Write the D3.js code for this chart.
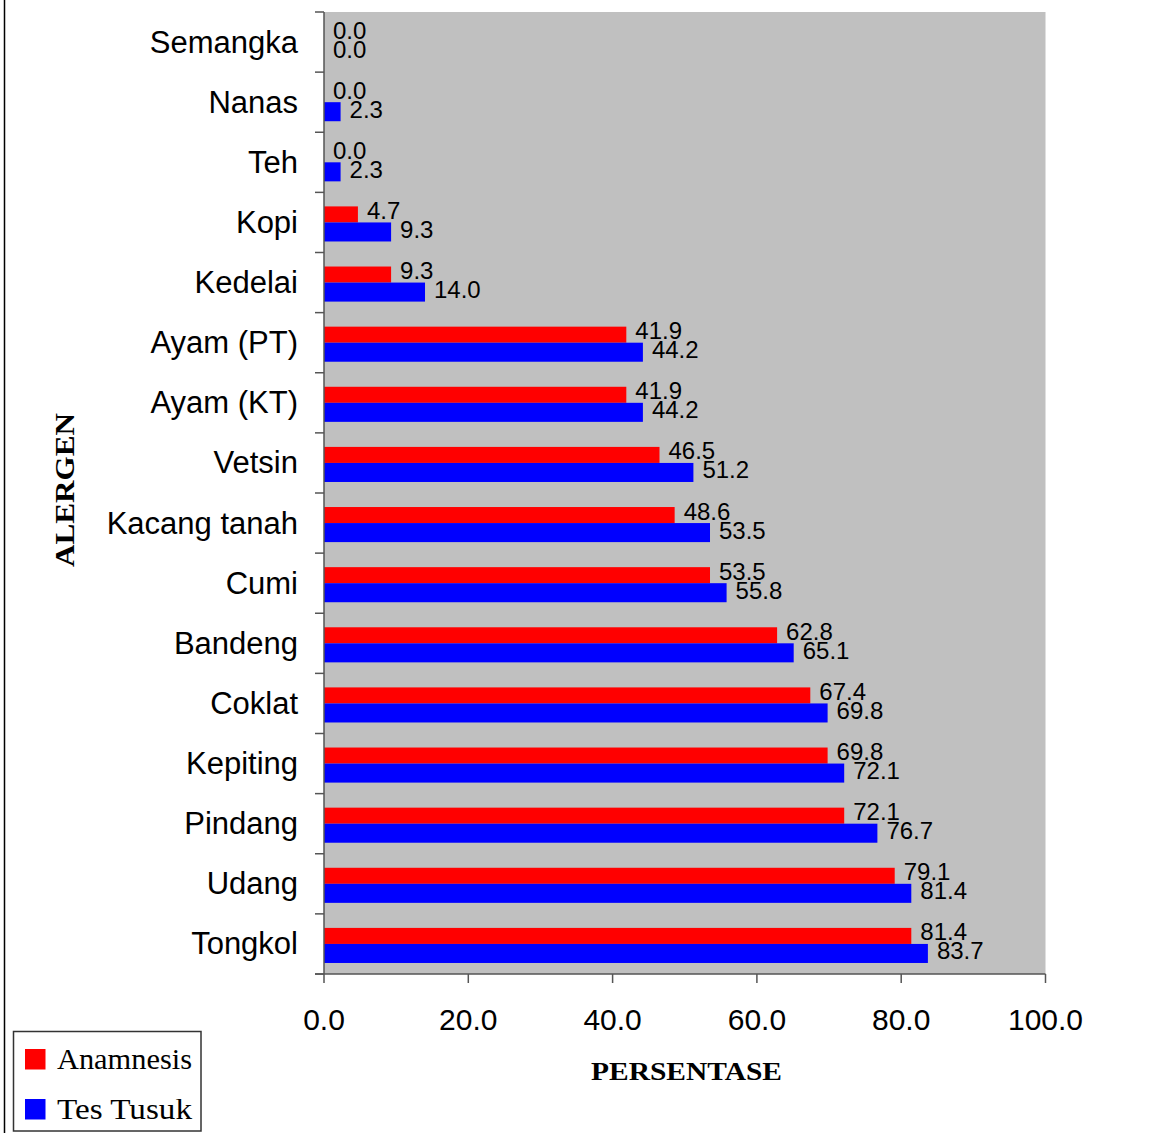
<!DOCTYPE html>
<html><head><meta charset="utf-8">
<script src="https://cdn.jsdelivr.net/npm/d3@7"></script>
<style>html,body{margin:0;padding:0;background:#fff;}svg{display:block;}</style>
</head><body>
<script>
const categories = ["Semangka","Nanas","Teh","Kopi","Kedelai","Ayam (PT)","Ayam (KT)","Vetsin","Kacang tanah","Cumi","Bandeng","Coklat","Kepiting","Pindang","Udang","Tongkol"];
const anamnesis = [0.0,0.0,0.0,4.7,9.3,41.9,41.9,46.5,48.6,53.5,62.8,67.4,69.8,72.1,79.1,81.4];
const tesTusuk  = [0.0,2.3,2.3,9.3,14.0,44.2,44.2,51.2,53.5,55.8,65.1,69.8,72.1,76.7,81.4,83.7];
const xTicks = [0,20,40,60,80,100];
const seriesNames = ["Anamnesis","Tes Tusuk"];
const seriesColors = ["#FF0000","#0000FF"];

const W = 1153, H = 1133;
const svg = d3.select("body").append("svg").attr("width", W).attr("height", H);
const L = 324, R = 1045.5, T = 12, B = 974;
const x = d3.scaleLinear().domain([0,100]).range([L,R]);
const y = d3.scaleBand().domain(categories).range([T,B]);
const bw = y.bandwidth();

// page border line
svg.append("line").attr("x1",4.5).attr("x2",4.5).attr("y1",0).attr("y2",H).attr("stroke","#000").attr("stroke-width",1.5);

// plot background
svg.append("rect").attr("x",L).attr("y",T).attr("width",R-L).attr("height",B-T).attr("fill","#C0C0C0");

const sans = "'Liberation Sans', Arial, sans-serif";
const serif = "'Liberation Serif', 'Times New Roman', serif";

// bars
const g = svg.append("g");
categories.forEach((c,i)=>{
  const y0 = y(c);
  const ry = y0 + bw*14/60, rh = bw*16/60;
  const by = y0 + bw*30/60, bh = bw*19/60;
  g.append("rect").attr("x",x(0)).attr("y",ry).attr("width",x(anamnesis[i])-x(0)).attr("height",rh).attr("fill",seriesColors[0]);
  g.append("rect").attr("x",x(0)).attr("y",by).attr("width",x(tesTusuk[i])-x(0)).attr("height",bh).attr("fill",seriesColors[1]);
  g.append("text").attr("x",x(anamnesis[i])+9).attr("y",y0+bw*26.5/60).attr("font-family",sans).attr("font-size",24).attr("fill","#000").text(anamnesis[i].toFixed(1));
  g.append("text").attr("x",x(tesTusuk[i])+9).attr("y",y0+bw*45.5/60).attr("font-family",sans).attr("font-size",24).attr("fill","#000").text(tesTusuk[i].toFixed(1));
});

// y axis
const yAxis = svg.append("g");
yAxis.append("line").attr("x1",L).attr("x2",L).attr("y1",T).attr("y2",B).attr("stroke","#555").attr("stroke-width",1.5);
const yBoundaries = categories.map(c=>y(c)).concat([B]);
yBoundaries.forEach(v=>{
  yAxis.append("line").attr("x1",L-9).attr("x2",L).attr("y1",v).attr("y2",v).attr("stroke","#555").attr("stroke-width",1.5);
});
categories.forEach(c=>{
  yAxis.append("text").attr("x",298).attr("y",y(c)+bw/2+10.5).attr("text-anchor","end")
    .attr("font-family",sans).attr("font-size",31).attr("fill","#000").text(c);
});

// x axis
const xAxis = svg.append("g");
xAxis.append("line").attr("x1",L-9).attr("x2",R).attr("y1",B).attr("y2",B).attr("stroke","#555").attr("stroke-width",1.5);
xTicks.forEach(t=>{
  xAxis.append("line").attr("x1",x(t)).attr("x2",x(t)).attr("y1",B).attr("y2",B+9).attr("stroke","#555").attr("stroke-width",1.5);
  xAxis.append("text").attr("x",x(t)).attr("y",1030).attr("text-anchor","middle")
    .attr("font-family",sans).attr("font-size",30).attr("fill","#000").text(t.toFixed(1));
});

// axis titles
svg.append("text").attr("x",591).attr("y",1080).attr("font-family",serif).attr("font-weight","bold")
  .attr("font-size",26).attr("textLength",191).attr("lengthAdjust","spacingAndGlyphs").attr("fill","#000").text("PERSENTASE");
svg.append("text").attr("transform","translate(74,567) rotate(-90)").attr("font-family",serif).attr("font-weight","bold")
  .attr("font-size",27).attr("textLength",154).attr("lengthAdjust","spacingAndGlyphs").attr("fill","#000").text("ALERGEN");

// legend
const lg = svg.append("g");
lg.append("rect").attr("x",13.5).attr("y",1031.5).attr("width",187.5).attr("height",99.5).attr("fill","#fff").attr("stroke","#333").attr("stroke-width",1.5);
seriesNames.forEach((s,i)=>{
  const yy = 1049 + i*50;
  lg.append("rect").attr("x",25).attr("y",yy).attr("width",20.5).attr("height",20.5).attr("fill",seriesColors[i]);
  lg.append("text").attr("x",57).attr("y",yy+19.5).attr("font-family",serif).attr("font-size",30)
    .attr("textLength",135).attr("lengthAdjust","spacingAndGlyphs").attr("fill","#000").text(s);
});
</script>
</body></html>
